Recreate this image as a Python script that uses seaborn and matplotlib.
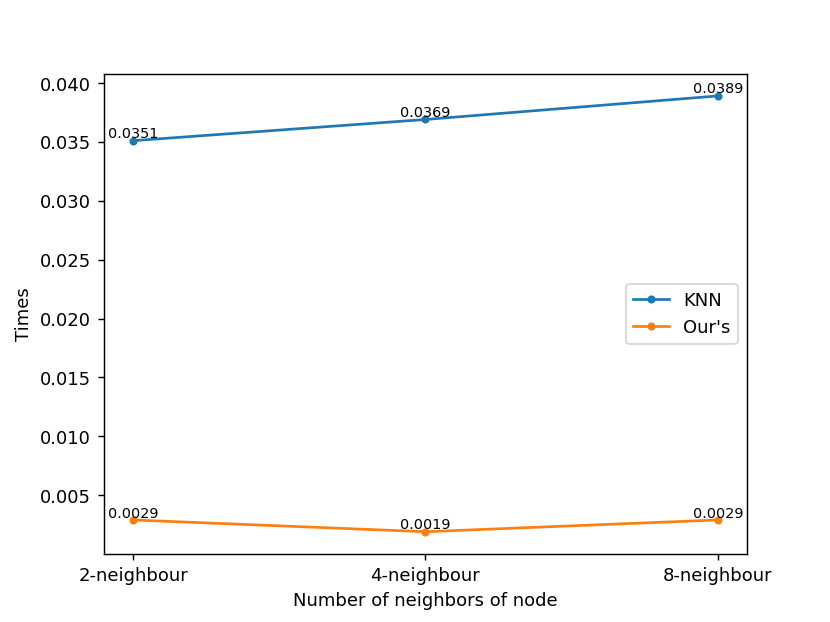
import numpy as np
import pandas as pd
import matplotlib
matplotlib.use("Agg")
import matplotlib.pyplot as plt
import seaborn as sns

# data
neighbours = ['2-neighbour', '4-neighbour', '8-neighbour']
knn_times = [0.0351, 0.0369, 0.0389]
ours_times = [0.0029, 0.0019, 0.0029]

df = pd.DataFrame({
    'neighbours': neighbours * 2,
    'times': knn_times + ours_times,
    'method': ['KNN'] * 3 + ["Our's"] * 3,
})

fig, ax = plt.subplots(figsize=(6.4, 4.8), dpi=129.7)
sns.lineplot(data=df, x='neighbours', y='times', hue='method',
             marker='o', markersize=4.5, markeredgewidth=0,
             palette=['#1f77b4', '#ff7f0e'], ax=ax)

# value labels above each point
for i, lab in enumerate(neighbours):
    ax.text(i, knn_times[i], str(knn_times[i]), ha='center', va='bottom', fontsize=8)
    ax.text(i, ours_times[i], str(ours_times[i]), ha='center', va='bottom', fontsize=8)

ax.set_xlabel('Number of neighbors of node')
ax.set_ylabel('Times')
ax.legend(loc='center right')

plt.savefig('out.png')
